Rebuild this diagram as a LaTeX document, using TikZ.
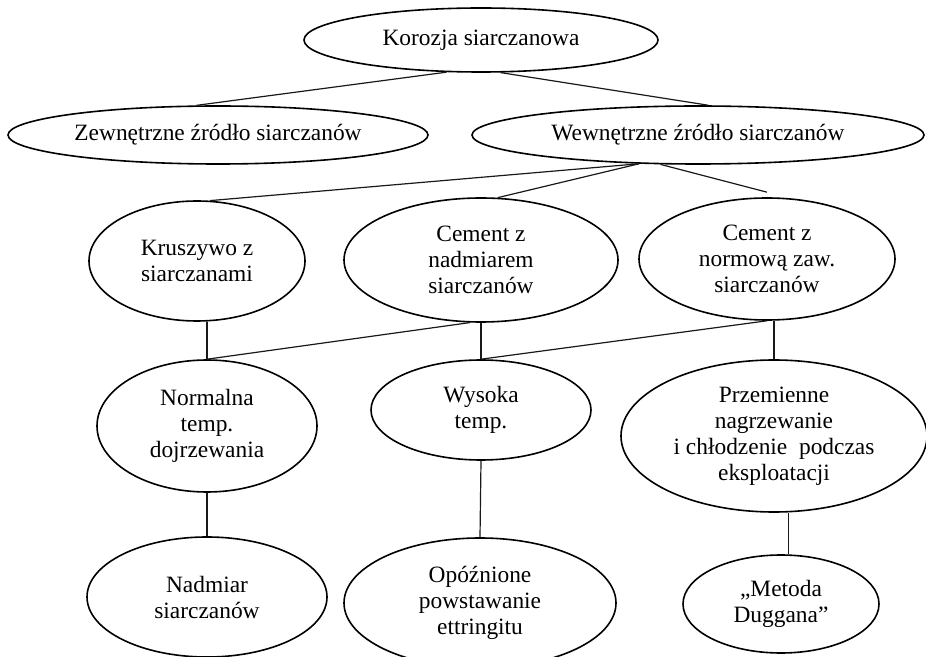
\documentclass[tikz,border=0pt]{standalone}
\usepackage{fontspec}
\setmainfont{Liberation Serif}
\usepackage{tikz}
\usetikzlibrary{shapes.geometric,positioning}

\begin{document}
\begin{tikzpicture}[
  x=0.5pt, y=-0.5pt,
  e/.style={draw, ellipse, line width=0.8pt, inner sep=0pt, align=center, font=\fontsize{11.7}{13}\selectfont},
  con/.style={line width=0.6pt, draw=black!90}
]
  \useasboundingbox (0,0) rectangle (926,657);
  \clip (0,0) rectangle (926,657);

  \node[e, minimum width=177pt, minimum height=32pt] (kor) at (481,40) {Korozja siarczanowa};
  \node[e, minimum width=210pt, minimum height=29pt] (zew) at (218,135) {Zewnętrzne źródło siarczanów};
  \node[e, minimum width=226pt, minimum height=29pt] (wew) at (698,135) {Wewnętrzne źródło siarczanów};
  \node[e, minimum width=108pt, minimum height=60pt] (kru) at (197,261) {Kruszywo z\\siarczanami};
  \node[e, minimum width=137pt, minimum height=62pt] (cnad) at (481,260) {Cement z\\nadmiarem\\siarczanów};
  \node[e, minimum width=128pt, minimum height=61pt] (cnor) at (767,259) {Cement z\\normową zaw.\\siarczanów};
  \node[e, minimum width=110pt, minimum height=66pt] (ndoj) at (207,426) {Normalna\\temp.\\dojrzewania};
  \node[e, minimum width=110pt, minimum height=50pt] (wys) at (481,410) {Wysoka\\temp.};
  \node[e, minimum width=153pt, minimum height=76pt] (prz) at (774,436) {Przemienne\\nagrzewanie\\i chłodzenie\ \ podczas\\eksploatacji};
  \node[e, minimum width=120pt, minimum height=60pt] (nsi) at (207,597) {Nadmiar\\siarczanów};
  \node[e, minimum width=136pt, minimum height=65pt] (opo) at (480,603) {Opóźnione\\powstawanie\\ettringitu};
  \node[e, minimum width=98pt, minimum height=49pt] (dug) at (781,604) {„Metoda\\Duggana”};
  \coordinate[above=2.5pt of cnor.north] (wgap);

  \draw[con] (kor.223) -- (zew.126);
  \draw[con] (kor.301) -- (wew.71);
  \draw[con] (wew.206) -- (kru.78);
  \draw[con] (wew.206) -- (cnad.75);
  \draw[con] (wew.218) -- (wgap);
  \draw[con] (ndoj.north |- kru.south) -- (ndoj.north);
  \draw[con] (cnad.260) -- (ndoj.north);
  \draw[con] (cnad.south) -- (wys.north);
  \draw[con] (cnor.south) -- (wys.north);
  \draw[con] (prz.north |- cnor.south) -- (prz.north);
  \draw[con] (ndoj.south) -- (nsi.north);
  \draw[con] (wys.south) -- (opo.north);
  \draw[con] (dug.81) -- (dug.81 |- prz.south);
\end{tikzpicture}
\end{document}
